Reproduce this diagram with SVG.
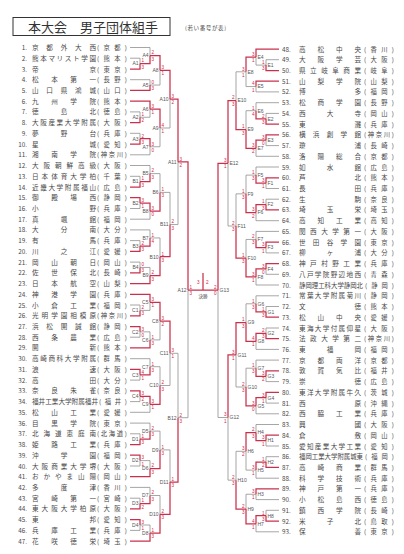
<svg xmlns="http://www.w3.org/2000/svg" width="404" height="554" viewBox="0 0 404 554">
<style>
text{font-family:"Noto Sans CJK JP","Noto Sans",sans-serif;fill:#484848}
.n{font-size:6.3px;text-anchor:end}
.nr{font-size:6.3px}
.nm{font-size:6.6px}
.pf{font-size:6.3px}
.lb{font-size:5px;font-family:"Liberation Sans",Arial,sans-serif;fill:#555}
.le{text-anchor:end}
.sc{font-size:4.6px;font-family:"Liberation Sans",Arial,sans-serif;fill:#d02848}
.g{fill:none;stroke:#969696;stroke-width:0.85}
.r{fill:none;stroke:#c9304c;stroke-width:1.25}
</style>
<rect width="404" height="554" fill="#fff"/>
<g id="title">
<rect x="13" y="17.5" width="157" height="18" fill="none" stroke="#333" stroke-width="1"/>
<text x="28" y="32" style="font-size:13px;fill:#333">本大会</text>
<text x="80" y="32" style="font-size:13px;fill:#333">男子団体組手</text>
<text x="185" y="30" style="font-size:5.5px" textLength="41">(若い番号が表)</text>
</g>
<g id="connectors">
<path class="g" d="M130 58.2H140V63.6M130 47.5H150V55.55M130 79.7H150V85.05M150 85.05H160V70.3M130 111.9H140V117.25M140 117.25H150V109.2M130 133.3H140V138.7M130 154.8H150V146.75M150 146.75H160V128M160 128H170V99.15M130 176.3H140V181.65M130 165.5H150V173.6M130 208.5H140V203.1M130 219.2H150V211.15M150 173.6H160V192.4M130 240.6H140V246M130 229.9H150V237.95M130 262.1H140V267.45M140 267.45H150V275.5M150 237.95H160V256.7M160 192.4H170V224.55M170 224.55H178V161.85M130 305H140V310.4M140 310.4H150V302.35M130 337.2H140V331.85M140 331.85H150V339.9M150 339.9H160V321.1M130 380.1H140V374.75M130 358.7H150V366.7M130 401.6H140V396.25M130 412.3H150V404.3M150 366.7H160V385.5M160 385.5H170V353.3M130 433.8H140V439.15M130 423.1H150V431.1M130 466H140V460.6M140 460.6H150V468.65M150 431.1H160V449.9M130 498.2H140V503.55M130 487.4H150V495.5M130 530.4H140V525M140 525H150V533.05M150 495.5H160V514.3M160 449.9H170V482.1M170 353.3H178V417.7M178 417.7H188V290"/>
<path class="g" d="M279 59.7H266V65.1M266 65.1H256V57.05M279 91.9H256V86.55M256 86.55H246V71.8M279 113.4H266V118.75M279 102.7H256V110.7M279 145.6H266V140.2M279 156.3H256V148.25M256 110.7H246V129.5M246 71.8H236V100.65M279 188.5H266V183.15M279 167H256V175.1M279 199.2H266V204.55M279 220.7H256V212.6M256 175.1H246V193.85M279 252.9H266V247.5M279 231.4H256V239.45M279 274.3H266V268.95M279 285H256V276.95M256 239.45H246V258.2M246 193.85H236V226M236 226H228V163.3M279 306.5H266V311.85M279 295.8H256V303.8M279 328H266V333.35M279 349.4H256V341.4M256 303.8H246V322.6M279 381.6H266V376.25M279 360.1H256V368.2M279 403.1H266V397.7M279 413.8H256V405.75M256 368.2H246V387M246 387H236V354.8M279 446H266V440.6M279 424.5H256V432.55M279 456.7H266V462.05M279 478.2H256V470.1M256 470.1H246V451.3M279 499.6H256V494.25M279 510.3H266V515.7M279 531.8H256V523.75M256 494.25H246V509M246 451.3H236V480.15M236 480.15H228V417.5M228 417.5H218V290"/>
<path class="r" d="M130 69H140V63.6M140 63.6H150V55.55M130 90.4H150V85.05M150 55.55H160V70.3M130 122.6H140V117.25M130 101.2H150V109.2M130 144.1H140V138.7M140 138.7H150V146.75M150 109.2H160V128M160 70.3H170V99.15M130 187H140V181.65M140 181.65H150V173.6M130 197.7H140V203.1M140 203.1H150V211.15M150 211.15H160V192.4M130 251.4H140V246M140 246H150V237.95M130 272.8H140V267.45M130 283.6H150V275.5M150 275.5H160V256.7M160 256.7H170V224.55M170 99.15H178V161.85M130 315.8H140V310.4M130 294.3H150V302.35M130 326.5H140V331.85M130 347.9H150V339.9M150 302.35H160V321.1M130 369.4H140V374.75M140 374.75H150V366.7M130 390.9H140V396.25M140 396.25H150V404.3M150 404.3H160V385.5M160 321.1H170V353.3M130 444.5H140V439.15M140 439.15H150V431.1M130 455.2H140V460.6M130 476.7H150V468.65M150 468.65H160V449.9M130 508.9H140V503.55M140 503.55H150V495.5M130 519.6H140V525M130 541.1H150V533.05M150 533.05H160V514.3M160 514.3H170V482.1M170 482.1H178V417.7M178 161.85H188V290M188 290H218M203 290V273"/>
<path class="r" d="M279 70.5H266V65.1M279 49H256V57.05M279 81.2H256V86.55M256 57.05H246V71.8M279 124.1H266V118.75M266 118.75H256V110.7M279 134.8H266V140.2M266 140.2H256V148.25M256 148.25H246V129.5M246 129.5H236V100.65M279 177.8H266V183.15M266 183.15H256V175.1M279 209.9H266V204.55M266 204.55H256V212.6M256 212.6H246V193.85M279 242.1H266V247.5M266 247.5H256V239.45M279 263.6H266V268.95M266 268.95H256V276.95M256 276.95H246V258.2M246 258.2H236V226M236 100.65H228V163.3M279 317.2H266V311.85M266 311.85H256V303.8M279 338.7H266V333.35M266 333.35H256V341.4M256 341.4H246V322.6M279 370.9H266V376.25M266 376.25H256V368.2M279 392.3H266V397.7M266 397.7H256V405.75M256 405.75H246V387M246 322.6H236V354.8M279 435.2H266V440.6M266 440.6H256V432.55M279 467.4H266V462.05M266 462.05H256V470.1M256 432.55H246V451.3M279 488.9H256V494.25M279 521.1H266V515.7M266 515.7H256V523.75M256 523.75H246V509M246 509H236V480.15M236 354.8H228V417.5M228 163.3H218V290"/>
</g>
<g id="teams-left">
<g id="t1" transform="translate(0 47.5)"><text class="n" x="27" y="2.5">1.</text><text class="nm" x="32" y="2.5" textLength="64">京都外大西</text><text class="pf" x="97" y="2.5" textLength="30">(京都)</text></g>
<g id="t2" transform="translate(0 58.2)"><text class="n" x="27" y="2.5">2.</text><text class="nm" x="32" y="2.5" textLength="64">熊本マリスト学園</text><text class="pf" x="97" y="2.5" textLength="30">(熊本)</text></g>
<g id="t3" transform="translate(0 69)"><text class="n" x="27" y="2.5">3.</text><text class="nm" x="32" y="2.5" textLength="64">帝京</text><text class="pf" x="97" y="2.5" textLength="30">(東京)</text></g>
<g id="t4" transform="translate(0 79.7)"><text class="n" x="27" y="2.5">4.</text><text class="nm" x="32" y="2.5" textLength="64">松本第一</text><text class="pf" x="97" y="2.5" textLength="30">(長野)</text></g>
<g id="t5" transform="translate(0 90.4)"><text class="n" x="27" y="2.5">5.</text><text class="nm" x="32" y="2.5" textLength="64">山口県鴻城</text><text class="pf" x="97" y="2.5" textLength="30">(山口)</text></g>
<g id="t6" transform="translate(0 101.2)"><text class="n" x="27" y="2.5">6.</text><text class="nm" x="32" y="2.5" textLength="64">九州学院</text><text class="pf" x="97" y="2.5" textLength="30">(熊本)</text></g>
<g id="t7" transform="translate(0 111.9)"><text class="n" x="27" y="2.5">7.</text><text class="nm" x="32" y="2.5" textLength="64">徳島北</text><text class="pf" x="97" y="2.5" textLength="30">(徳島)</text></g>
<g id="t8" transform="translate(0 122.6)"><text class="n" x="27" y="2.5">8.</text><text class="nm" x="32" y="2.5" textLength="64">大阪産業大学附属</text><text class="pf" x="97" y="2.5" textLength="30">(大阪)</text></g>
<g id="t9" transform="translate(0 133.3)"><text class="n" x="27" y="2.5">9.</text><text class="nm" x="32" y="2.5" textLength="64">夢野台</text><text class="pf" x="97" y="2.5" textLength="30">(兵庫)</text></g>
<g id="t10" transform="translate(0 144.1)"><text class="n" x="27" y="2.5">10.</text><text class="nm" x="32" y="2.5" textLength="64">星城</text><text class="pf" x="97" y="2.5" textLength="30">(愛知)</text></g>
<g id="t11" transform="translate(0 154.8)"><text class="n" x="27" y="2.5">11.</text><text class="nm" x="32" y="2.5" textLength="64">湘南学院</text><text class="pf" x="97" y="2.5" textLength="30">(神奈川)</text></g>
<g id="t12" transform="translate(0 165.5)"><text class="n" x="27" y="2.5">12.</text><text class="nm" x="32" y="2.5" textLength="64">大阪朝鮮高級</text><text class="pf" x="97" y="2.5" textLength="30">(大阪)</text></g>
<g id="t13" transform="translate(0 176.3)"><text class="n" x="27" y="2.5">13.</text><text class="nm" x="32" y="2.5" textLength="64">日本体育大学柏</text><text class="pf" x="97" y="2.5" textLength="30">(千葉)</text></g>
<g id="t14" transform="translate(0 187)"><text class="n" x="27" y="2.5">14.</text><text class="nm" x="32" y="2.5" textLength="64">近畿大学附属福山</text><text class="pf" x="97" y="2.5" textLength="30">(広島)</text></g>
<g id="t15" transform="translate(0 197.7)"><text class="n" x="27" y="2.5">15.</text><text class="nm" x="32" y="2.5" textLength="64">御殿場西</text><text class="pf" x="97" y="2.5" textLength="30">(静岡)</text></g>
<g id="t16" transform="translate(0 208.5)"><text class="n" x="27" y="2.5">16.</text><text class="nm" x="32" y="2.5" textLength="64">小野</text><text class="pf" x="97" y="2.5" textLength="30">(兵庫)</text></g>
<g id="t17" transform="translate(0 219.2)"><text class="n" x="27" y="2.5">17.</text><text class="nm" x="32" y="2.5" textLength="64">真颯館</text><text class="pf" x="97" y="2.5" textLength="30">(福岡)</text></g>
<g id="t18" transform="translate(0 229.9)"><text class="n" x="27" y="2.5">18.</text><text class="nm" x="32" y="2.5" textLength="64">大分南</text><text class="pf" x="97" y="2.5" textLength="30">(大分)</text></g>
<g id="t19" transform="translate(0 240.6)"><text class="n" x="27" y="2.5">19.</text><text class="nm" x="32" y="2.5" textLength="64">有馬</text><text class="pf" x="97" y="2.5" textLength="30">(兵庫)</text></g>
<g id="t20" transform="translate(0 251.4)"><text class="n" x="27" y="2.5">20.</text><text class="nm" x="32" y="2.5" textLength="64">川之江</text><text class="pf" x="97" y="2.5" textLength="30">(愛媛)</text></g>
<g id="t21" transform="translate(0 262.1)"><text class="n" x="27" y="2.5">21.</text><text class="nm" x="32" y="2.5" textLength="64">岡山朝日</text><text class="pf" x="97" y="2.5" textLength="30">(岡山)</text></g>
<g id="t22" transform="translate(0 272.8)"><text class="n" x="27" y="2.5">22.</text><text class="nm" x="32" y="2.5" textLength="64">佐世保北</text><text class="pf" x="97" y="2.5" textLength="30">(長崎)</text></g>
<g id="t23" transform="translate(0 283.6)"><text class="n" x="27" y="2.5">23.</text><text class="nm" x="32" y="2.5" textLength="64">日本航空</text><text class="pf" x="97" y="2.5" textLength="30">(山梨)</text></g>
<g id="t24" transform="translate(0 294.3)"><text class="n" x="27" y="2.5">24.</text><text class="nm" x="32" y="2.5" textLength="64">神港学園</text><text class="pf" x="97" y="2.5" textLength="30">(兵庫)</text></g>
<g id="t25" transform="translate(0 305)"><text class="n" x="27" y="2.5">25.</text><text class="nm" x="32" y="2.5" textLength="64">小倉工業</text><text class="pf" x="97" y="2.5" textLength="30">(福岡)</text></g>
<g id="t26" transform="translate(0 315.8)"><text class="n" x="27" y="2.5">26.</text><text class="nm" x="32" y="2.5" textLength="64">光明学園相模原</text><text class="pf" x="97" y="2.5" textLength="30">(神奈川)</text></g>
<g id="t27" transform="translate(0 326.5)"><text class="n" x="27" y="2.5">27.</text><text class="nm" x="32" y="2.5" textLength="64">浜松開誠館</text><text class="pf" x="97" y="2.5" textLength="30">(静岡)</text></g>
<g id="t28" transform="translate(0 337.2)"><text class="n" x="27" y="2.5">28.</text><text class="nm" x="32" y="2.5" textLength="64">西条農業</text><text class="pf" x="97" y="2.5" textLength="30">(広島)</text></g>
<g id="t29" transform="translate(0 347.9)"><text class="n" x="27" y="2.5">29.</text><text class="nm" x="32" y="2.5" textLength="64">開新</text><text class="pf" x="97" y="2.5" textLength="30">(熊本)</text></g>
<g id="t30" transform="translate(0 358.7)"><text class="n" x="27" y="2.5">30.</text><text class="nm" x="32" y="2.5" textLength="64">高崎商科大学附属</text><text class="pf" x="97" y="2.5" textLength="30">(群馬)</text></g>
<g id="t31" transform="translate(0 369.4)"><text class="n" x="27" y="2.5">31.</text><text class="nm" x="32" y="2.5" textLength="64">浪速</text><text class="pf" x="97" y="2.5" textLength="30">(大阪)</text></g>
<g id="t32" transform="translate(0 380.1)"><text class="n" x="27" y="2.5">32.</text><text class="nm" x="32" y="2.5" textLength="64">高田</text><text class="pf" x="97" y="2.5" textLength="30">(大分)</text></g>
<g id="t33" transform="translate(0 390.9)"><text class="n" x="27" y="2.5">33.</text><text class="nm" x="32" y="2.5" textLength="64">奈良朱雀</text><text class="pf" x="97" y="2.5" textLength="30">(奈良)</text></g>
<g id="t34" transform="translate(0 401.6)"><text class="n" x="27" y="2.5">34.</text><text class="nm" x="32" y="2.5" textLength="66" lengthAdjust="spacingAndGlyphs">福井工業大学附属福井</text><text class="pf" x="99" y="2.5" textLength="28">(福井)</text></g>
<g id="t35" transform="translate(0 412.3)"><text class="n" x="27" y="2.5">35.</text><text class="nm" x="32" y="2.5" textLength="64">松山工業</text><text class="pf" x="97" y="2.5" textLength="30">(愛媛)</text></g>
<g id="t36" transform="translate(0 423.1)"><text class="n" x="27" y="2.5">36.</text><text class="nm" x="32" y="2.5" textLength="64">目黒学院</text><text class="pf" x="97" y="2.5" textLength="30">(東京)</text></g>
<g id="t37" transform="translate(0 433.8)"><text class="n" x="27" y="2.5">37.</text><text class="nm" x="32" y="2.5" textLength="64">北海道恵庭南</text><text class="pf" x="97" y="2.5" textLength="30">(北海道)</text></g>
<g id="t38" transform="translate(0 444.5)"><text class="n" x="27" y="2.5">38.</text><text class="nm" x="32" y="2.5" textLength="64">姫路工業</text><text class="pf" x="97" y="2.5" textLength="30">(兵庫)</text></g>
<g id="t39" transform="translate(0 455.2)"><text class="n" x="27" y="2.5">39.</text><text class="nm" x="32" y="2.5" textLength="64">沖学園</text><text class="pf" x="97" y="2.5" textLength="30">(福岡)</text></g>
<g id="t40" transform="translate(0 466)"><text class="n" x="27" y="2.5">40.</text><text class="nm" x="32" y="2.5" textLength="64">大阪商業大学堺</text><text class="pf" x="97" y="2.5" textLength="30">(大阪)</text></g>
<g id="t41" transform="translate(0 476.7)"><text class="n" x="27" y="2.5">41.</text><text class="nm" x="32" y="2.5" textLength="64">おかやま山陽</text><text class="pf" x="97" y="2.5" textLength="30">(岡山)</text></g>
<g id="t42" transform="translate(0 487.4)"><text class="n" x="27" y="2.5">42.</text><text class="nm" x="32" y="2.5" textLength="64">多度津</text><text class="pf" x="97" y="2.5" textLength="30">(香川)</text></g>
<g id="t43" transform="translate(0 498.2)"><text class="n" x="27" y="2.5">43.</text><text class="nm" x="32" y="2.5" textLength="64">宮崎第一</text><text class="pf" x="97" y="2.5" textLength="30">(宮崎)</text></g>
<g id="t44" transform="translate(0 508.9)"><text class="n" x="27" y="2.5">44.</text><text class="nm" x="32" y="2.5" textLength="64">東大阪大学柏原</text><text class="pf" x="97" y="2.5" textLength="30">(大阪)</text></g>
<g id="t45" transform="translate(0 519.6)"><text class="n" x="27" y="2.5">45.</text><text class="nm" x="32" y="2.5" textLength="64">東邦</text><text class="pf" x="97" y="2.5" textLength="30">(愛知)</text></g>
<g id="t46" transform="translate(0 530.4)"><text class="n" x="27" y="2.5">46.</text><text class="nm" x="32" y="2.5" textLength="64">兵庫工業</text><text class="pf" x="97" y="2.5" textLength="30">(兵庫)</text></g>
<g id="t47" transform="translate(0 541.1)"><text class="n" x="27" y="2.5">47.</text><text class="nm" x="32" y="2.5" textLength="64">花咲徳栄</text><text class="pf" x="97" y="2.5" textLength="30">(埼玉)</text></g>
</g>
<g id="teams-right">
<g id="t48" transform="translate(0 49)"><text class="nr" x="282" y="2.5">48.</text><text class="nm" x="299" y="2.5" textLength="62">高松中央</text><text class="pf" x="364" y="2.5" textLength="30">(香川)</text></g>
<g id="t49" transform="translate(0 59.7)"><text class="nr" x="282" y="2.5">49.</text><text class="nm" x="299" y="2.5" textLength="62">大阪学芸</text><text class="pf" x="364" y="2.5" textLength="30">(大阪)</text></g>
<g id="t50" transform="translate(0 70.5)"><text class="nr" x="282" y="2.5">50.</text><text class="nm" x="299" y="2.5" textLength="62">県立岐阜商業</text><text class="pf" x="364" y="2.5" textLength="30">(岐阜)</text></g>
<g id="t51" transform="translate(0 81.2)"><text class="nr" x="282" y="2.5">51.</text><text class="nm" x="299" y="2.5" textLength="62">山梨学院</text><text class="pf" x="364" y="2.5" textLength="30">(山梨)</text></g>
<g id="t52" transform="translate(0 91.9)"><text class="nr" x="282" y="2.5">52.</text><text class="nm" x="299" y="2.5" textLength="62">博多</text><text class="pf" x="364" y="2.5" textLength="30">(福岡)</text></g>
<g id="t53" transform="translate(0 102.7)"><text class="nr" x="282" y="2.5">53.</text><text class="nm" x="299" y="2.5" textLength="62">松商学園</text><text class="pf" x="364" y="2.5" textLength="30">(長野)</text></g>
<g id="t54" transform="translate(0 113.4)"><text class="nr" x="282" y="2.5">54.</text><text class="nm" x="299" y="2.5" textLength="62">西大寺</text><text class="pf" x="364" y="2.5" textLength="30">(岡山)</text></g>
<g id="t55" transform="translate(0 124.1)"><text class="nr" x="282" y="2.5">55.</text><text class="nm" x="299" y="2.5" textLength="62">東灘</text><text class="pf" x="364" y="2.5" textLength="30">(兵庫)</text></g>
<g id="t56" transform="translate(0 134.8)"><text class="nr" x="282" y="2.5">56.</text><text class="nm" x="299" y="2.5" textLength="62">横浜創学館</text><text class="pf" x="364" y="2.5" textLength="30">(神奈川)</text></g>
<g id="t57" transform="translate(0 145.6)"><text class="nr" x="282" y="2.5">57.</text><text class="nm" x="299" y="2.5" textLength="62">瓊浦</text><text class="pf" x="364" y="2.5" textLength="30">(長崎)</text></g>
<g id="t58" transform="translate(0 156.3)"><text class="nr" x="282" y="2.5">58.</text><text class="nm" x="299" y="2.5" textLength="62">洛陽総合</text><text class="pf" x="364" y="2.5" textLength="30">(京都)</text></g>
<g id="t59" transform="translate(0 167)"><text class="nr" x="282" y="2.5">59.</text><text class="nm" x="299" y="2.5" textLength="62">如水館</text><text class="pf" x="364" y="2.5" textLength="30">(広島)</text></g>
<g id="t60" transform="translate(0 177.8)"><text class="nr" x="282" y="2.5">60.</text><text class="nm" x="299" y="2.5" textLength="62">芦北</text><text class="pf" x="364" y="2.5" textLength="30">(熊本)</text></g>
<g id="t61" transform="translate(0 188.5)"><text class="nr" x="282" y="2.5">61.</text><text class="nm" x="299" y="2.5" textLength="62">長田</text><text class="pf" x="364" y="2.5" textLength="30">(兵庫)</text></g>
<g id="t62" transform="translate(0 199.2)"><text class="nr" x="282" y="2.5">62.</text><text class="nm" x="299" y="2.5" textLength="62">生駒</text><text class="pf" x="364" y="2.5" textLength="30">(奈良)</text></g>
<g id="t63" transform="translate(0 209.9)"><text class="nr" x="282" y="2.5">63.</text><text class="nm" x="299" y="2.5" textLength="62">埼玉栄</text><text class="pf" x="364" y="2.5" textLength="30">(埼玉)</text></g>
<g id="t64" transform="translate(0 220.7)"><text class="nr" x="282" y="2.5">64.</text><text class="nm" x="299" y="2.5" textLength="62">高知工業</text><text class="pf" x="364" y="2.5" textLength="30">(高知)</text></g>
<g id="t65" transform="translate(0 231.4)"><text class="nr" x="282" y="2.5">65.</text><text class="nm" x="299" y="2.5" textLength="62">関西大学第一</text><text class="pf" x="364" y="2.5" textLength="30">(大阪)</text></g>
<g id="t66" transform="translate(0 242.1)"><text class="nr" x="282" y="2.5">66.</text><text class="nm" x="299" y="2.5" textLength="62">世田谷学園</text><text class="pf" x="364" y="2.5" textLength="30">(東京)</text></g>
<g id="t67" transform="translate(0 252.9)"><text class="nr" x="282" y="2.5">67.</text><text class="nm" x="299" y="2.5" textLength="62">柳ヶ浦</text><text class="pf" x="364" y="2.5" textLength="30">(大分)</text></g>
<g id="t68" transform="translate(0 263.6)"><text class="nr" x="282" y="2.5">68.</text><text class="nm" x="299" y="2.5" textLength="62">神戸村野工業</text><text class="pf" x="364" y="2.5" textLength="30">(兵庫)</text></g>
<g id="t69" transform="translate(0 274.3)"><text class="nr" x="282" y="2.5">69.</text><text class="nm" x="299" y="2.5" textLength="62">八戸学院野辺地西</text><text class="pf" x="364" y="2.5" textLength="30">(青森)</text></g>
<g id="t70" transform="translate(0 285)"><text class="nr" x="282" y="2.5">70.</text><text class="nm" x="299" y="2.5" textLength="64" lengthAdjust="spacingAndGlyphs">静岡理工科大学静岡北</text><text class="pf" x="365" y="2.5" textLength="29">(静岡)</text></g>
<g id="t71" transform="translate(0 295.8)"><text class="nr" x="282" y="2.5">71.</text><text class="nm" x="299" y="2.5" textLength="62">常葉大学附属菊川</text><text class="pf" x="364" y="2.5" textLength="30">(静岡)</text></g>
<g id="t72" transform="translate(0 306.5)"><text class="nr" x="282" y="2.5">72.</text><text class="nm" x="299" y="2.5" textLength="62">文徳</text><text class="pf" x="364" y="2.5" textLength="30">(熊本)</text></g>
<g id="t73" transform="translate(0 317.2)"><text class="nr" x="282" y="2.5">73.</text><text class="nm" x="299" y="2.5" textLength="62">松山中央</text><text class="pf" x="364" y="2.5" textLength="30">(愛媛)</text></g>
<g id="t74" transform="translate(0 328)"><text class="nr" x="282" y="2.5">74.</text><text class="nm" x="299" y="2.5" textLength="62">東海大学付属仰星</text><text class="pf" x="364" y="2.5" textLength="30">(大阪)</text></g>
<g id="t75" transform="translate(0 338.7)"><text class="nr" x="282" y="2.5">75.</text><text class="nm" x="299" y="2.5" textLength="62">法政大学第二</text><text class="pf" x="364" y="2.5" textLength="30">(神奈川)</text></g>
<g id="t76" transform="translate(0 349.4)"><text class="nr" x="282" y="2.5">76.</text><text class="nm" x="299" y="2.5" textLength="62">東福岡</text><text class="pf" x="364" y="2.5" textLength="30">(福岡)</text></g>
<g id="t77" transform="translate(0 360.1)"><text class="nr" x="282" y="2.5">77.</text><text class="nm" x="299" y="2.5" textLength="62">京都両洋</text><text class="pf" x="364" y="2.5" textLength="30">(京都)</text></g>
<g id="t78" transform="translate(0 370.9)"><text class="nr" x="282" y="2.5">78.</text><text class="nm" x="299" y="2.5" textLength="62">敦賀気比</text><text class="pf" x="364" y="2.5" textLength="30">(福井)</text></g>
<g id="t79" transform="translate(0 381.6)"><text class="nr" x="282" y="2.5">79.</text><text class="nm" x="299" y="2.5" textLength="62">崇徳</text><text class="pf" x="364" y="2.5" textLength="30">(広島)</text></g>
<g id="t80" transform="translate(0 392.3)"><text class="nr" x="282" y="2.5">80.</text><text class="nm" x="299" y="2.5" textLength="62">東洋大学附属牛久</text><text class="pf" x="364" y="2.5" textLength="30">(茨城)</text></g>
<g id="t81" transform="translate(0 403.1)"><text class="nr" x="282" y="2.5">81.</text><text class="nm" x="299" y="2.5" textLength="62">西原</text><text class="pf" x="364" y="2.5" textLength="30">(沖縄)</text></g>
<g id="t82" transform="translate(0 413.8)"><text class="nr" x="282" y="2.5">82.</text><text class="nm" x="299" y="2.5" textLength="62">西脇工業</text><text class="pf" x="364" y="2.5" textLength="30">(兵庫)</text></g>
<g id="t83" transform="translate(0 424.5)"><text class="nr" x="282" y="2.5">83.</text><text class="nm" x="299" y="2.5" textLength="62">興國</text><text class="pf" x="364" y="2.5" textLength="30">(大阪)</text></g>
<g id="t84" transform="translate(0 435.2)"><text class="nr" x="282" y="2.5">84.</text><text class="nm" x="299" y="2.5" textLength="62">倉敷</text><text class="pf" x="364" y="2.5" textLength="30">(岡山)</text></g>
<g id="t85" transform="translate(0 446)"><text class="nr" x="282" y="2.5">85.</text><text class="nm" x="299" y="2.5" textLength="62">愛知産業大学工業</text><text class="pf" x="364" y="2.5" textLength="30">(愛知)</text></g>
<g id="t86" transform="translate(0 456.7)"><text class="nr" x="282" y="2.5">86.</text><text class="nm" x="299" y="2.5" textLength="64" lengthAdjust="spacingAndGlyphs">福岡工業大学附属城東</text><text class="pf" x="365" y="2.5" textLength="29">(福岡)</text></g>
<g id="t87" transform="translate(0 467.4)"><text class="nr" x="282" y="2.5">87.</text><text class="nm" x="299" y="2.5" textLength="62">高崎商業</text><text class="pf" x="364" y="2.5" textLength="30">(群馬)</text></g>
<g id="t88" transform="translate(0 478.2)"><text class="nr" x="282" y="2.5">88.</text><text class="nm" x="299" y="2.5" textLength="62">科学技術</text><text class="pf" x="364" y="2.5" textLength="30">(兵庫)</text></g>
<g id="t89" transform="translate(0 488.9)"><text class="nr" x="282" y="2.5">89.</text><text class="nm" x="299" y="2.5" textLength="62">神戸第一</text><text class="pf" x="364" y="2.5" textLength="30">(兵庫)</text></g>
<g id="t90" transform="translate(0 499.6)"><text class="nr" x="282" y="2.5">90.</text><text class="nm" x="299" y="2.5" textLength="62">小松島西</text><text class="pf" x="364" y="2.5" textLength="30">(徳島)</text></g>
<g id="t91" transform="translate(0 510.3)"><text class="nr" x="282" y="2.5">91.</text><text class="nm" x="299" y="2.5" textLength="62">鎮西学院</text><text class="pf" x="364" y="2.5" textLength="30">(長崎)</text></g>
<g id="t92" transform="translate(0 521.1)"><text class="nr" x="282" y="2.5">92.</text><text class="nm" x="299" y="2.5" textLength="62">米子北</text><text class="pf" x="364" y="2.5" textLength="30">(鳥取)</text></g>
<g id="t93" transform="translate(0 531.8)"><text class="nr" x="282" y="2.5">93.</text><text class="nm" x="299" y="2.5" textLength="62">保善</text><text class="pf" x="364" y="2.5" textLength="30">(東京)</text></g>
</g>
<g id="match-labels">
<text class="lb le" x="138.5" y="65.4">A1</text><text class="lb le" x="148.5" y="57.35">A4</text><text class="lb le" x="148.5" y="86.85">A5</text><text class="lb le" x="158.5" y="72.1">A8</text><text class="lb le" x="138.5" y="119.05">A2</text><text class="lb le" x="148.5" y="111">A6</text><text class="lb le" x="138.5" y="140.5">A3</text><text class="lb le" x="148.5" y="148.55">A7</text><text class="lb le" x="158.5" y="129.8">A9</text><text class="lb le" x="168.5" y="100.95">A10</text>
<text class="lb le" x="138.5" y="183.45">B1</text><text class="lb le" x="148.5" y="175.4">B5</text><text class="lb le" x="138.5" y="204.9">B2</text><text class="lb le" x="148.5" y="212.95">B8</text><text class="lb le" x="158.5" y="194.2">B6</text><text class="lb le" x="138.5" y="247.8">B3</text><text class="lb le" x="148.5" y="239.75">B7</text><text class="lb le" x="138.5" y="269.25">B4</text><text class="lb le" x="148.5" y="277.3">B9</text><text class="lb le" x="158.5" y="258.5">B10</text><text class="lb le" x="168.5" y="226.35">B11</text><text class="lb le" x="176.5" y="163.65">A11</text>
<text class="lb le" x="138.5" y="312.2">C1</text><text class="lb le" x="148.5" y="304.15">C5</text><text class="lb le" x="138.5" y="333.65">C2</text><text class="lb le" x="148.5" y="341.7">C6</text><text class="lb le" x="158.5" y="322.9">C8</text><text class="lb le" x="138.5" y="376.55">C3</text><text class="lb le" x="148.5" y="368.5">C7</text><text class="lb le" x="138.5" y="398.05">C4</text><text class="lb le" x="148.5" y="406.1">C9</text><text class="lb le" x="158.5" y="387.3">C10</text><text class="lb le" x="168.5" y="355.1">C11</text>
<text class="lb le" x="138.5" y="440.95">D1</text><text class="lb le" x="148.5" y="432.9">D5</text><text class="lb le" x="138.5" y="462.4">D2</text><text class="lb le" x="148.5" y="470.45">D6</text><text class="lb le" x="158.5" y="451.7">D9</text><text class="lb le" x="138.5" y="505.35">D3</text><text class="lb le" x="148.5" y="497.3">D7</text><text class="lb le" x="138.5" y="526.8">D4</text><text class="lb le" x="148.5" y="534.85">D8</text><text class="lb le" x="158.5" y="516.1">D10</text><text class="lb le" x="168.5" y="483.9">D11</text><text class="lb le" x="176.5" y="419.5">B12</text><text class="lb le" x="186.5" y="291.8">A12</text>
<text class="lb" x="267.5" y="66.9">E1</text><text class="lb" x="257.5" y="58.85">E4</text><text class="lb" x="257.5" y="88.35">E5</text><text class="lb" x="247.5" y="73.6">E8</text><text class="lb" x="267.5" y="120.55">E2</text><text class="lb" x="257.5" y="112.5">E6</text><text class="lb" x="267.5" y="142">E3</text><text class="lb" x="257.5" y="150.05">E7</text><text class="lb" x="247.5" y="131.3">E9</text><text class="lb" x="237.5" y="102.45">E10</text>
<text class="lb" x="267.5" y="184.95">F1</text><text class="lb" x="257.5" y="176.9">F5</text><text class="lb" x="267.5" y="206.35">F2</text><text class="lb" x="257.5" y="214.4">F6</text><text class="lb" x="247.5" y="195.65">F9</text><text class="lb" x="267.5" y="249.3">F3</text><text class="lb" x="257.5" y="241.25">F7</text><text class="lb" x="267.5" y="270.75">F4</text><text class="lb" x="257.5" y="278.75">F8</text><text class="lb" x="247.5" y="260">F10</text><text class="lb" x="237.5" y="227.8">F11</text><text class="lb" x="229.5" y="165.1">E12</text>
<text class="lb" x="267.5" y="313.65">G1</text><text class="lb" x="257.5" y="305.6">G6</text><text class="lb" x="267.5" y="335.15">G2</text><text class="lb" x="257.5" y="343.2">G8</text><text class="lb" x="247.5" y="324.4">G9</text><text class="lb" x="267.5" y="378.05">G3</text><text class="lb" x="257.5" y="370">G7</text><text class="lb" x="267.5" y="399.5">G4</text><text class="lb" x="257.5" y="407.55">G5</text><text class="lb" x="247.5" y="388.8">G10</text><text class="lb" x="237.5" y="356.6">G11</text>
<text class="lb" x="267.5" y="442.4">H1</text><text class="lb" x="257.5" y="434.35">H4</text><text class="lb" x="267.5" y="463.85">H2</text><text class="lb" x="257.5" y="471.9">H5</text><text class="lb" x="247.5" y="453.1">H6</text><text class="lb" x="257.5" y="496.05">H3</text><text class="lb" x="267.5" y="517.5">H8</text><text class="lb" x="257.5" y="525.55">H7</text><text class="lb" x="247.5" y="510.8">H9</text><text class="lb" x="237.5" y="481.95">H10</text><text class="lb" x="229.5" y="419.3">G12</text><text class="lb" x="219.5" y="291.8">G13</text>
<text x="203" y="297.5" style="font-size:4.5px;text-anchor:middle">決勝</text>
</g>
<g id="scores">
<text class="sc" x="141.5" y="62.4">1<tspan x="141.5" dy="6.2">3</tspan></text>
<text class="sc" x="151.5" y="54.35">2<tspan x="151.5" dy="6.2">3</tspan></text>
<text class="sc" x="151.5" y="83.85">0<tspan x="151.5" dy="6.2">3</tspan></text>
<text class="sc" x="161.5" y="69.1">3<tspan x="161.5" dy="6.2">1</tspan></text>
<text class="sc" x="141.5" y="116.05">1<tspan x="141.5" dy="6.2">2</tspan></text>
<text class="sc" x="151.5" y="108">3<tspan x="151.5" dy="6.2">1</tspan></text>
<text class="sc" x="141.5" y="137.5">2<tspan x="141.5" dy="6.2">3</tspan></text>
<text class="sc" x="151.5" y="145.55">3<tspan x="151.5" dy="6.2">0</tspan></text>
<text class="sc" x="161.5" y="126.8">4<tspan x="161.5" dy="6.2">1</tspan></text>
<text class="sc" x="171.5" y="97.95">3<tspan x="171.5" dy="6.2">2</tspan></text>
<text class="sc" x="141.5" y="180.45">1<tspan x="141.5" dy="6.2">3</tspan></text>
<text class="sc" x="151.5" y="172.4">2<tspan x="151.5" dy="6.2">3</tspan></text>
<text class="sc" x="141.5" y="201.9">3<tspan x="141.5" dy="6.2">1</tspan></text>
<text class="sc" x="151.5" y="209.95">3<tspan x="151.5" dy="6.2">0</tspan></text>
<text class="sc" x="161.5" y="191.2">1<tspan x="161.5" dy="6.2">3</tspan></text>
<text class="sc" x="141.5" y="244.8">2<tspan x="141.5" dy="6.2">3</tspan></text>
<text class="sc" x="151.5" y="236.75">1<tspan x="151.5" dy="6.2">4</tspan></text>
<text class="sc" x="141.5" y="266.25">0<tspan x="141.5" dy="6.2">3</tspan></text>
<text class="sc" x="151.5" y="274.3">2<tspan x="151.5" dy="6.2">3</tspan></text>
<text class="sc" x="161.5" y="255.5">1<tspan x="161.5" dy="6.2">3</tspan></text>
<text class="sc" x="171.5" y="223.35">2<tspan x="171.5" dy="6.2">3</tspan></text>
<text class="sc" x="179.5" y="160.65">3<tspan x="179.5" dy="6.2">2</tspan></text>
<text class="sc" x="141.5" y="309.2">2<tspan x="141.5" dy="6.2">3</tspan></text>
<text class="sc" x="151.5" y="301.15">3<tspan x="151.5" dy="6.2">1</tspan></text>
<text class="sc" x="141.5" y="330.65">3<tspan x="141.5" dy="6.2">0</tspan></text>
<text class="sc" x="151.5" y="338.7">1<tspan x="151.5" dy="6.2">3</tspan></text>
<text class="sc" x="161.5" y="319.9">3<tspan x="161.5" dy="6.2">2</tspan></text>
<text class="sc" x="141.5" y="373.55">4<tspan x="141.5" dy="6.2">1</tspan></text>
<text class="sc" x="151.5" y="365.5">1<tspan x="151.5" dy="6.2">3</tspan></text>
<text class="sc" x="141.5" y="395.05">3<tspan x="141.5" dy="6.2">2</tspan></text>
<text class="sc" x="151.5" y="403.1">3<tspan x="151.5" dy="6.2">1</tspan></text>
<text class="sc" x="161.5" y="384.3">2<tspan x="161.5" dy="6.2">3</tspan></text>
<text class="sc" x="171.5" y="352.1">3<tspan x="171.5" dy="6.2">1</tspan></text>
<text class="sc" x="141.5" y="437.95">1<tspan x="141.5" dy="6.2">3</tspan></text>
<text class="sc" x="151.5" y="429.9">2<tspan x="151.5" dy="6.2">3</tspan></text>
<text class="sc" x="141.5" y="459.4">3<tspan x="141.5" dy="6.2">1</tspan></text>
<text class="sc" x="151.5" y="467.45">2<tspan x="151.5" dy="6.2">3</tspan></text>
<text class="sc" x="161.5" y="448.7">1<tspan x="161.5" dy="6.2">3</tspan></text>
<text class="sc" x="141.5" y="502.35">1<tspan x="141.5" dy="6.2">2</tspan></text>
<text class="sc" x="151.5" y="494.3">2<tspan x="151.5" dy="6.2">3</tspan></text>
<text class="sc" x="141.5" y="523.8">3<tspan x="141.5" dy="6.2">1</tspan></text>
<text class="sc" x="151.5" y="531.85">1<tspan x="151.5" dy="6.2">3</tspan></text>
<text class="sc" x="161.5" y="513.1">2<tspan x="161.5" dy="6.2">3</tspan></text>
<text class="sc" x="171.5" y="480.9">1<tspan x="171.5" dy="6.2">3</tspan></text>
<text class="sc" x="179.5" y="416.5">2<tspan x="179.5" dy="6.2">3</tspan></text>
<text class="sc" x="189.5" y="288.8">1<tspan x="189.5" dy="6.2">3</tspan></text>
<text class="sc" x="197" y="284">3</text>
<text class="sc" x="206" y="284">2</text>
<g style="text-anchor:end">
<text class="sc" x="264.5" y="63.9">1<tspan x="264.5" dy="6.2">3</tspan></text>
<text class="sc" x="254.5" y="55.85">3<tspan x="254.5" dy="6.2">1</tspan></text>
<text class="sc" x="254.5" y="85.35">4<tspan x="254.5" dy="6.2">1</tspan></text>
<text class="sc" x="244.5" y="70.6">3<tspan x="244.5" dy="6.2">1</tspan></text>
<text class="sc" x="264.5" y="117.55">2<tspan x="264.5" dy="6.2">3</tspan></text>
<text class="sc" x="254.5" y="109.5">1<tspan x="254.5" dy="6.2">4</tspan></text>
<text class="sc" x="264.5" y="139">3<tspan x="264.5" dy="6.2">0</tspan></text>
<text class="sc" x="254.5" y="147.05">3<tspan x="254.5" dy="6.2">2</tspan></text>
<text class="sc" x="244.5" y="128.3">1<tspan x="244.5" dy="6.2">3</tspan></text>
<text class="sc" x="234.5" y="99.45">2<tspan x="234.5" dy="6.2">3</tspan></text>
<text class="sc" x="264.5" y="181.95">3<tspan x="264.5" dy="6.2">1</tspan></text>
<text class="sc" x="254.5" y="173.9">1<tspan x="254.5" dy="6.2">3</tspan></text>
<text class="sc" x="264.5" y="203.35">1<tspan x="264.5" dy="6.2">3</tspan></text>
<text class="sc" x="254.5" y="211.4">3<tspan x="254.5" dy="6.2">2</tspan></text>
<text class="sc" x="244.5" y="192.65">1<tspan x="244.5" dy="6.2">3</tspan></text>
<text class="sc" x="264.5" y="246.3">3<tspan x="264.5" dy="6.2">1</tspan></text>
<text class="sc" x="254.5" y="238.25">2<tspan x="254.5" dy="6.2">3</tspan></text>
<text class="sc" x="264.5" y="267.75">3<tspan x="264.5" dy="6.2">0</tspan></text>
<text class="sc" x="254.5" y="275.75">3<tspan x="254.5" dy="6.2">1</tspan></text>
<text class="sc" x="244.5" y="257">1<tspan x="244.5" dy="6.2">3</tspan></text>
<text class="sc" x="234.5" y="224.8">2<tspan x="234.5" dy="6.2">3</tspan></text>
<text class="sc" x="226.5" y="162.1">3<tspan x="226.5" dy="6.2">1</tspan></text>
<text class="sc" x="264.5" y="310.65">1<tspan x="264.5" dy="6.2">3</tspan></text>
<text class="sc" x="254.5" y="302.6">1<tspan x="254.5" dy="6.2">3</tspan></text>
<text class="sc" x="264.5" y="332.15">2<tspan x="264.5" dy="6.2">3</tspan></text>
<text class="sc" x="254.5" y="340.2">4<tspan x="254.5" dy="6.2">1</tspan></text>
<text class="sc" x="244.5" y="321.4">1<tspan x="244.5" dy="6.2">3</tspan></text>
<text class="sc" x="264.5" y="375.05">3<tspan x="264.5" dy="6.2">2</tspan></text>
<text class="sc" x="254.5" y="367">1<tspan x="254.5" dy="6.2">3</tspan></text>
<text class="sc" x="264.5" y="396.5">3<tspan x="264.5" dy="6.2">1</tspan></text>
<text class="sc" x="254.5" y="404.55">3<tspan x="254.5" dy="6.2">0</tspan></text>
<text class="sc" x="244.5" y="385.8">2<tspan x="244.5" dy="6.2">3</tspan></text>
<text class="sc" x="234.5" y="353.6">3<tspan x="234.5" dy="6.2">1</tspan></text>
<text class="sc" x="264.5" y="439.4">3<tspan x="264.5" dy="6.2">1</tspan></text>
<text class="sc" x="254.5" y="431.35">2<tspan x="254.5" dy="6.2">3</tspan></text>
<text class="sc" x="264.5" y="460.85">1<tspan x="264.5" dy="6.2">2</tspan></text>
<text class="sc" x="254.5" y="468.9">3<tspan x="254.5" dy="6.2">1</tspan></text>
<text class="sc" x="244.5" y="450.1">3<tspan x="244.5" dy="6.2">2</tspan></text>
<text class="sc" x="254.5" y="493.05">3<tspan x="254.5" dy="6.2">1</tspan></text>
<text class="sc" x="264.5" y="514.5">1<tspan x="264.5" dy="6.2">3</tspan></text>
<text class="sc" x="254.5" y="522.55">4<tspan x="254.5" dy="6.2">1</tspan></text>
<text class="sc" x="244.5" y="507.8">2<tspan x="244.5" dy="6.2">3</tspan></text>
<text class="sc" x="234.5" y="478.95">2<tspan x="234.5" dy="6.2">3</tspan></text>
<text class="sc" x="226.5" y="416.3">3<tspan x="226.5" dy="6.2">1</tspan></text>
<text class="sc" x="216.5" y="288.8">2<tspan x="216.5" dy="6.2">0</tspan></text>
</g>
</g>
</svg>
